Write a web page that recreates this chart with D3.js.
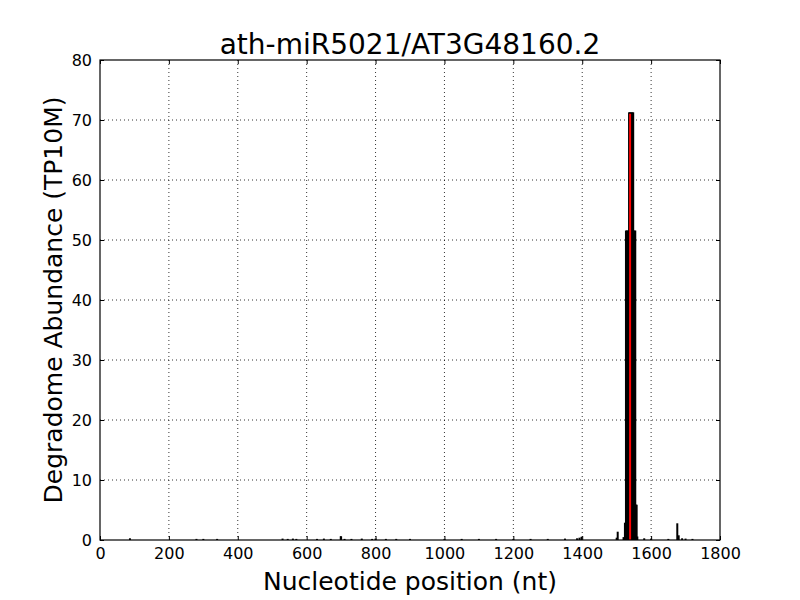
<!DOCTYPE html>
<html><head><meta charset="utf-8">
<script src="https://cdn.jsdelivr.net/npm/d3@7"></script>
<style>body{margin:0;background:#fff}svg{display:block}text{font-family:"DejaVu Sans",sans-serif}</style>
</head><body><svg id="c" width="800" height="600"></svg>
<script>
const title = "ath-miR5021/AT3G48160.2";
const xLabel = "Nucleotide position (nt)";
const yLabel = "Degradome Abundance (TP10M)";
const xTicks = [0,200,400,600,800,1000,1200,1400,1600,1800];
const yTicks = [0,10,20,30,40,50,60,70,80];
// degradome peaks: positions (nt) and abundance (TP10M)
const positions = [87,280,300,340,530,545,560,570,630,650,670,699,700,710,730,760,790,800,830,860,900,1000,1050,1100,1150,1200,1250,1300,1350,1385,1392,1398,1500,1503,1520,1524,1527,1530,1533,1536,1539,1542,1545,1548,1551,1554,1556,1558,1560,1580,1600,1650,1676,1680,1690,1700,1720];
const values    = [0.2,0.1,0.1,0.1,0.15,0.1,0.15,0.1,0.1,0.15,0.1,0.55,0.5,0.1,0.1,0.15,0.1,0.15,0.1,0.1,0.1,0.1,0.1,0.1,0.1,0.1,0.1,0.1,0.15,0.2,0.3,0.45,0.3,1.3,0.4,2.8,51.5,51.5,51.5,71.2,71.2,71.2,71.2,71.2,51.5,51.5,5.8,5.8,0.5,0.2,0.15,0.1,2.7,0.7,0.2,0.15,0.1];
const sitePos = 1539;
const siteValue = 71.2;

const svg = d3.select("#c");
const m = {l:100, r:720, t:60, b:540};
const x = d3.scaleLinear().domain([0,1800]).range([m.l,m.r]);
const y = d3.scaleLinear().domain([0,80]).range([m.b,m.t]);

// grid
const g = svg.append("g");
g.selectAll(".gx").data(xTicks.slice(1,-1)).join("line")
 .attr("x1",d=>x(d)).attr("x2",d=>x(d)).attr("y1",m.t).attr("y2",m.b)
 .attr("stroke","#000").attr("stroke-width",0.8).attr("stroke-dasharray","1,3");
g.selectAll(".gy").data(yTicks.slice(1,-1)).join("line")
 .attr("y1",d=>y(d)).attr("y2",d=>y(d)).attr("x1",m.l).attr("x2",m.r)
 .attr("stroke","#000").attr("stroke-width",0.8).attr("stroke-dasharray","1,3");

// data stems
const data = positions.map((p,i)=>({p, v: values[i]}));
svg.append("g").selectAll("rect").data(data).join("rect")
 .attr("x",d=>x(d.p)-1).attr("width",2)
 .attr("y",d=>y(d.v)-0.5).attr("height",d=>y(0)-y(d.v)+0.5)
 .attr("fill","#000");
// site line
svg.append("line").attr("x1",x(sitePos)).attr("x2",x(sitePos))
 .attr("y1",y(0)).attr("y2",y(siteValue)+1)
 .attr("stroke","#ff0000").attr("stroke-width",2);

// axes (inward ticks on all sides)
const bx = svg.append("g").attr("transform",`translate(0,${m.b})`)
 .call(d3.axisBottom(x).tickValues(xTicks).tickSize(-4).tickPadding(8).tickFormat(d3.format("d")));
const tx = svg.append("g").attr("transform",`translate(0,${m.t})`)
 .call(d3.axisTop(x).tickValues(xTicks).tickSize(-4).tickFormat(""));
const ly = svg.append("g").attr("transform",`translate(${m.l},0)`)
 .call(d3.axisLeft(y).tickValues(yTicks).tickSize(-4).tickPadding(8));
const ry = svg.append("g").attr("transform",`translate(${m.r},0)`)
 .call(d3.axisRight(y).tickValues(yTicks).tickSize(-4).tickFormat(""));
[bx,tx,ly,ry].forEach(a=>{
  a.select(".domain").remove();
  a.selectAll("text").attr("font-size",16).attr("fill","#000").style("font-family","DejaVu Sans");
  a.selectAll("line").attr("stroke","#000");
});
svg.append("rect").attr("x",m.l).attr("y",m.t).attr("width",m.r-m.l).attr("height",m.b-m.t)
 .attr("fill","none").attr("stroke","#000").attr("stroke-width",1.2);

svg.append("text").attr("x",(m.l+m.r)/2).attr("y",54).attr("text-anchor","middle")
 .attr("font-size",28).text(title);
svg.append("text").attr("x",(m.l+m.r)/2).attr("y",590).attr("text-anchor","middle")
 .attr("font-size",25).text(xLabel);
svg.append("text").attr("transform",`translate(62,${(m.t+m.b)/2}) rotate(-90)`)
 .attr("text-anchor","middle").attr("font-size",25).text(yLabel);
</script></body></html>
